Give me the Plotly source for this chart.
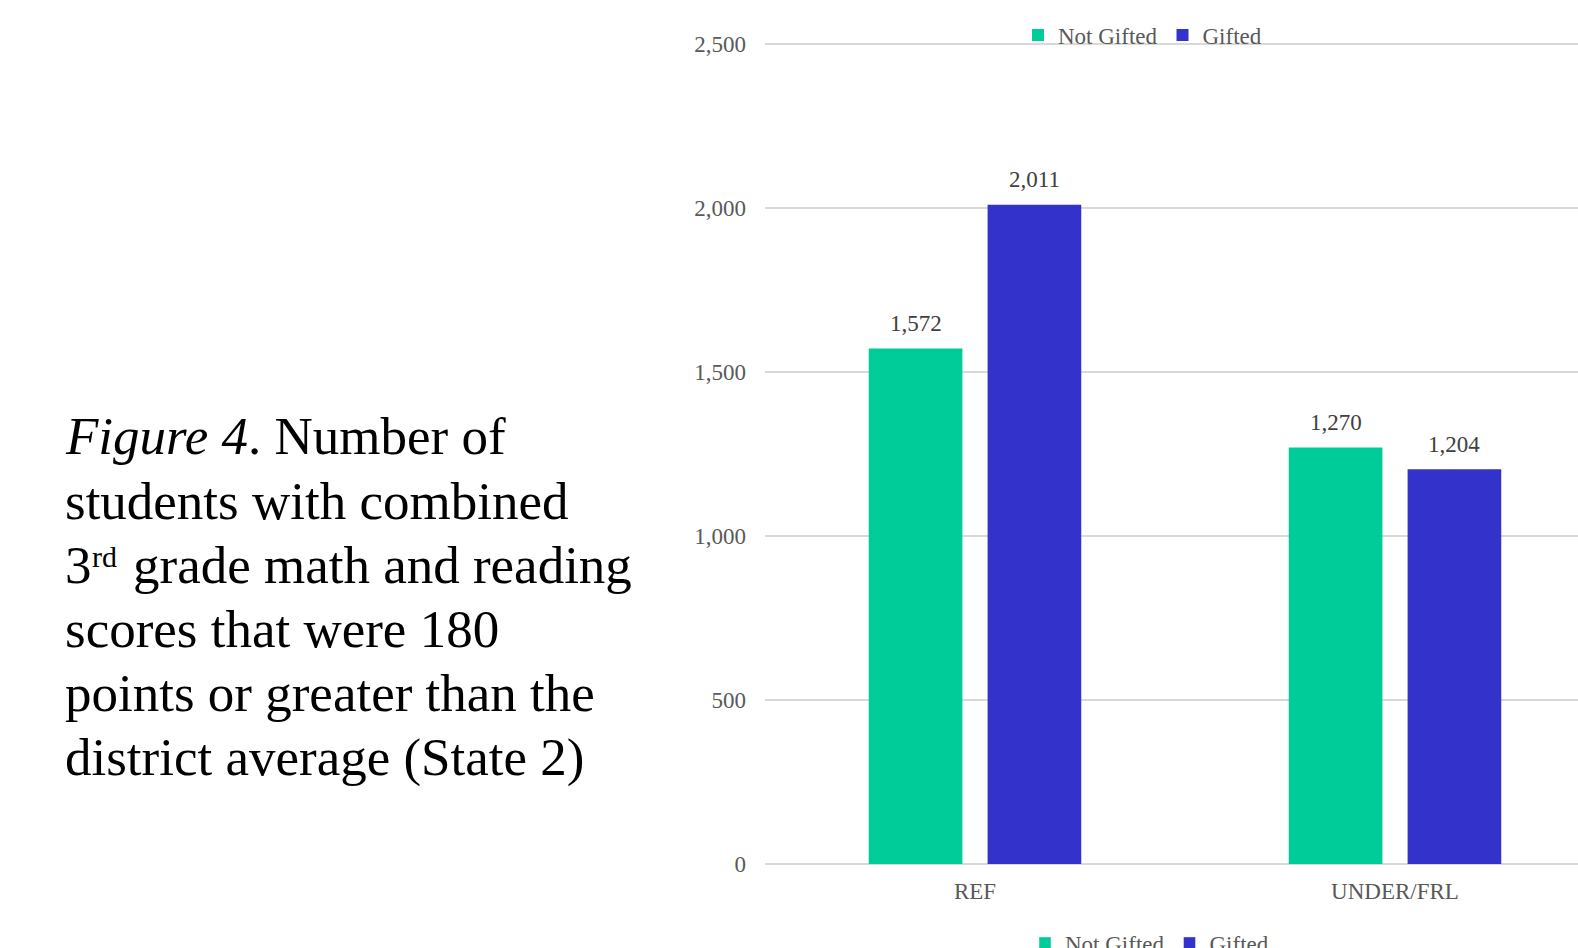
import plotly.graph_objects as go

# Data
categories = ["REF", "UNDER/FRL"]
not_gifted = [1572, 1270]
gifted = [2011, 1204]
series_names = ["Not Gifted", "Gifted"]
y_ticks = [0, 500, 1000, 1500, 2000, 2500]

# caption pieces: (text, left px, baseline px, font size)
caption_parts = [
    ("<i>Figure 4</i>. Number of", 63, 453, 53),
    ("students with combined", 63, 518, 53),
    ("3", 63, 582, 53),
    ("rd", 90, 566, 30),
    ("grade math and reading", 131, 582, 53),
    ("scores that were 180", 63, 646, 53),
    ("points or greater than the", 63, 710, 53),
    ("district average (State 2)", 63, 774, 53),
]

GREEN = "#00CC99"
BLUE = "#3333CC"
SERIF = "Liberation Serif, Times New Roman, serif"
TICK_GRAY = "#595959"
LABEL_GRAY = "#404040"

W, H = 1578, 948
L_M, T_M, B_M = 765, 43, 84
plot_w = W - L_M
plot_h = H - T_M - B_M
cat_px = 420  # pixel width of one category slot
y_max = 2504  # a little headroom so the 2,500 gridline is drawn

bar_w = 0.223
offsets = [-0.253, 0.030]


def paper_y(px):
    """Convert a pixel row (from the top of the page) to paper y."""
    return (H - B_M - px) / plot_h


def paper_x(px):
    return (px - L_M) / plot_w


fig = go.Figure()
for name, vals, color, off in zip(series_names, [not_gifted, gifted], [GREEN, BLUE], offsets):
    fig.add_trace(go.Bar(
        x=categories, y=vals, name=name,
        marker=dict(color=color, line=dict(width=0)),
        width=bar_w, offset=off, legend="legend",
        hoverinfo="x+y+name",
    ))
    # value labels above each bar
    for i, v in enumerate(vals):
        fig.add_annotation(
            x=i + off + bar_w / 2, y=v, xref="x", yref="y",
            text=f"{v:,}", showarrow=False, yanchor="middle", yshift=25,
            font=dict(family=SERIF, size=23, color=LABEL_GRAY),
        )

# second (bottom) legend entries
for name, color in zip(series_names, [GREEN, BLUE]):
    fig.add_trace(go.Bar(
        x=[None], y=[None], name=name, marker=dict(color=color),
        legend="legend2", hoverinfo="skip",
    ))

# caption on the left
for text, left, base, size in caption_parts:
    fig.add_annotation(
        x=paper_x(left), y=paper_y(base - 0.32 * size),
        xref="paper", yref="paper", xanchor="left", yanchor="middle",
        text=text, showarrow=False, align="left",
        font=dict(family=SERIF, size=size, color="black"),
    )

legend_font = dict(family=SERIF, size=23, color=TICK_GRAY)
fig.update_layout(
    width=W, height=H,
    margin=dict(l=L_M, r=0, t=T_M, b=B_M, pad=0, autoexpand=False),
    paper_bgcolor="white", plot_bgcolor="white",
    barmode="overlay",
    showlegend=True,
    legend=dict(orientation="h", x=paper_x(1018), y=paper_y(35),
                xanchor="left", yanchor="middle", font=legend_font,
                bgcolor="rgba(0,0,0,0)", traceorder="normal"),
    legend2=dict(orientation="h", x=paper_x(1025), y=paper_y(943),
                 xanchor="left", yanchor="middle", font=legend_font,
                 bgcolor="rgba(0,0,0,0)", traceorder="normal"),
    xaxis=dict(
        type="category", range=[-0.5, -0.5 + plot_w / cat_px],
        showgrid=False, zeroline=False, showline=False, ticks="",
        tickfont=dict(family=SERIF, size=23, color=TICK_GRAY),
        ticklabelstandoff=11, fixedrange=True,
    ),
    yaxis=dict(
        range=[0, y_max], tickvals=y_ticks, tickformat=",",
        showgrid=True, gridcolor="#D9D9D9", gridwidth=1.5,
        zeroline=True, zerolinecolor="#D9D9D9", zerolinewidth=1.5,
        showline=False, ticks="",
        tickfont=dict(family=SERIF, size=23, color=TICK_GRAY),
        ticklabelstandoff=18, fixedrange=True,
    ),
)

fig.write_html("out.html", config={"displayModeBar": False})
